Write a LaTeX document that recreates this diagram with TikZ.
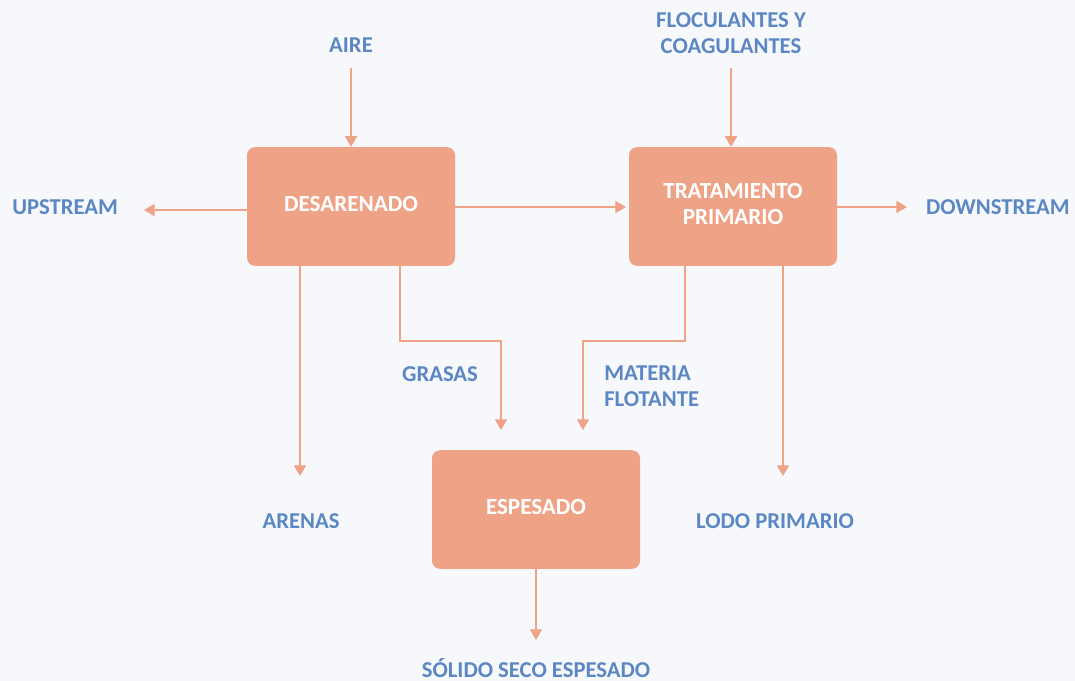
\documentclass[tikz,border=0pt]{standalone}
\usepackage{fontspec}
\setmainfont{Carlito}
\usetikzlibrary{arrows.meta}
\definecolor{boxfill}{HTML}{EFA386}
\definecolor{lblue}{HTML}{5B87C3}
\definecolor{bgc}{HTML}{F7F8FC}
\begin{document}
\begin{tikzpicture}[x=0.75pt,y=-0.75pt,
  procbox/.style={draw=none,fill=boxfill,rounded corners=6pt,minimum width=156pt,minimum height=89pt,
    text=white,font=\bfseries\fontsize{17.3}{18.8}\selectfont,align=center},
  boxtext/.style={text=white,font=\bfseries\fontsize{17.3}{18.8}\selectfont,align=center,inner sep=0pt},
  lbl/.style={text=lblue,font=\bfseries\fontsize{17}{19.5}\selectfont,inner sep=0pt},
  flow/.style={draw=boxfill,line width=1.3pt,-{Triangle[width=9pt,length=8pt]}}]
\fill[bgc] (0,0) rectangle (1075,681);
\useasboundingbox (0,0) rectangle (1075,681);
% boxes
\node[procbox] (des) at (351,206.5) {};
\node[procbox] (trat) at (733,206.5) {};
\node[procbox] (esp) at (536,509.5) {};
\node[boxtext] (desT) at (351,204) {DESARENADO};
\node[boxtext] (tratT) at (733,204) {TRATAMIENTO\\PRIMARIO};
\node[boxtext] (espT) at (536,507) {ESPESADO};
% labels
\node[lbl] (aire) at (351,45) {AIRE};
\node[lbl,align=center] (floc) at (731,33) {FLOCULANTES Y\\COAGULANTES};
\node[lbl,anchor=west] (up) at (12,207) {UPSTREAM};
\node[lbl,anchor=east] (down) at (1070,207) {DOWNSTREAM};
\node[lbl] (arenas) at (301,521) {ARENAS};
\node[lbl] (grasas) at (440,374) {GRASAS};
\node[lbl,anchor=west,align=left] (mat) at (604,386.5) {MATERIA\\FLOTANTE};
\node[lbl] (lodo) at (775,521) {LODO PRIMARIO};
\node[lbl] (solido) at (536,668) {SÓLIDO SECO ESPESADO};
% coordinates
\coordinate (aireS) at (351,68);
\coordinate (flocS) at (731,68);
\coordinate (upE) at (144,210);
\coordinate (downE) at (907,207);
\coordinate (arenasE) at (300,476);
\coordinate (lodoE) at (783,476);
\coordinate (grasE) at (501,430);
\coordinate (matE) at (583,430);
\coordinate (solE) at (536,640);
% connectors
\draw[flow] (aireS) -- (aireS |- des.north);
\draw[flow] (flocS) -- (flocS |- trat.north);
\draw[flow] (des.west |- upE) -- (upE);
\draw[flow] (des.east |- 0,207) -- ([xshift=-2]trat.west |- 0,207);
\draw[flow] (trat.east |- downE) -- (downE);
\draw[flow] (des.south -| arenasE) -- (arenasE);
\draw[flow] (trat.south -| lodoE) -- (lodoE);
\draw[flow] (des.south -| 400,0) -- (400,341) -- (501,341) -- (grasE);
\draw[flow] (trat.south -| 685,0) -- (685,341) -- (583,341) -- (matE);
\draw[flow] (esp.south) -- (solE);
\end{tikzpicture}
\end{document}
